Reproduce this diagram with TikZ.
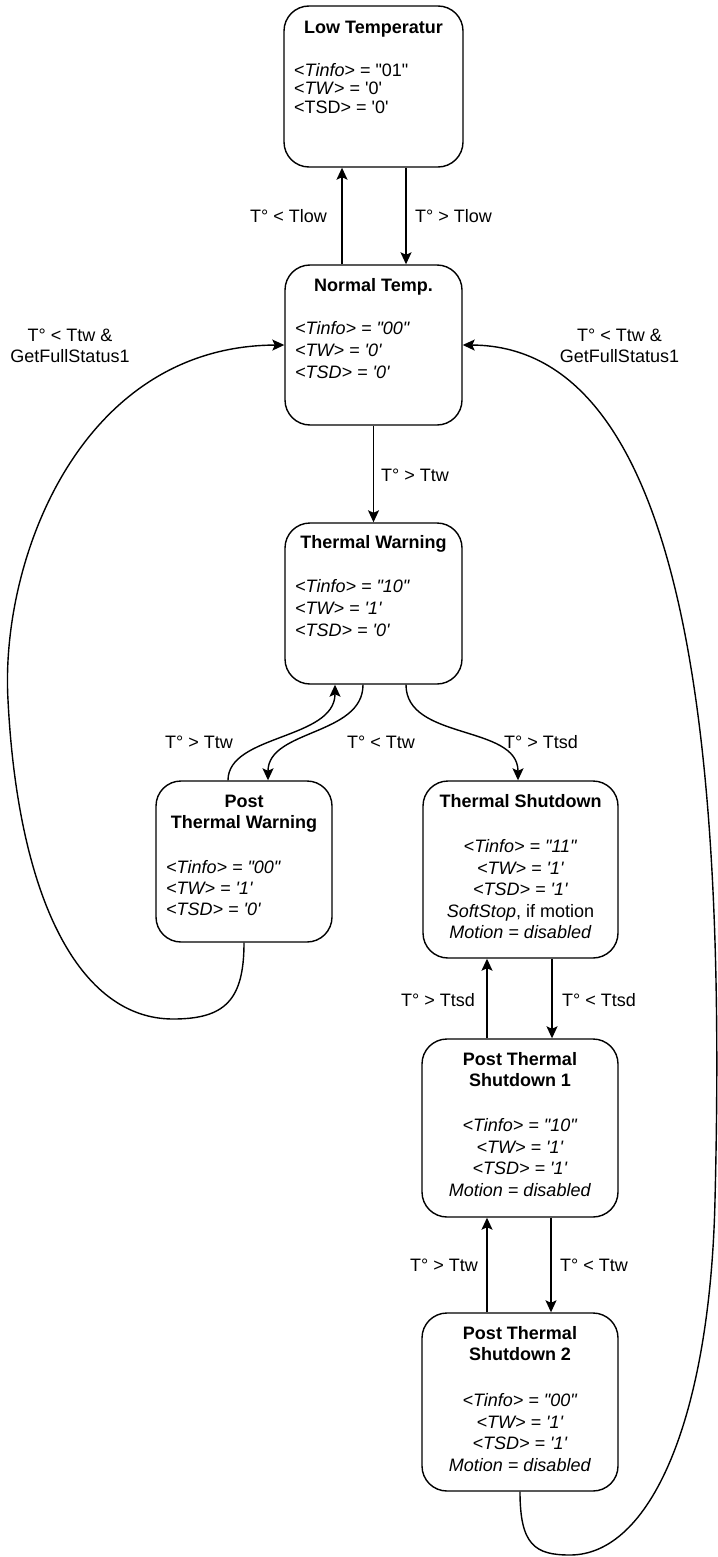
\documentclass[tikz,border=0pt]{standalone}
\usepackage{fontspec}
\setmainfont{Liberation Sans}[Ligatures=TeXOff]
\usetikzlibrary{arrows.meta}
\newcommand\mylines[2]{\begin{tabular}[t]{@{}#1@{}}#2\end{tabular}}
\begin{document}
\begin{tikzpicture}[x=1pt,y=-1pt,
  state/.style={draw, line width=1.4pt, rounded corners=25pt, inner sep=0pt},
  ttl/.style={inner sep=0pt, anchor=base, font=\bfseries\fontsize{18}{21}\selectfont},
  bodyl/.style={inner sep=0pt, anchor=base west, font=\fontsize{18}{22}\selectfont},
  bodyc/.style={inner sep=0pt, anchor=base, font=\fontsize{18}{21.5}\selectfont},
  lbl/.style={inner sep=0pt, font=\fontsize{18}{21}\selectfont},
  conn/.style={line width=1.4pt, -{Stealth[length=12pt,width=11pt,inset=2.5pt]}},
]
\useasboundingbox (0,0) rectangle (717,1557);

% states
\node[state, minimum width=179pt, minimum height=161pt] (low) at (373.5,86.5) {};
\node[state, minimum width=177pt, minimum height=160pt] (normal) at (373.5,345) {};
\node[state, minimum width=177pt, minimum height=161pt] (tw) at (373.5,603.5) {};
\node[state, minimum width=176pt, minimum height=161pt] (ptw) at (244,861.5) {};
\node[state, minimum width=195pt, minimum height=177pt] (ts) at (520.5,869.5) {};
\node[state, minimum width=196pt, minimum height=178pt] (pts1) at (520,1128) {};
\node[state, minimum width=196pt, minimum height=178pt] (pts2) at (520,1402) {};

% state texts
\node[ttl] (lowT) at (373.5,33.5) {Low Temperatur};
\node[bodyl, font=\fontsize{18}{18.5}\selectfont] (lowB) at (294,76.5)
  {\mylines{l}{<\textit{Tinfo}> = "01"\\<\textit{TW}> = '0'\\<TSD> = '0'}};

\node[ttl] (normalT) at (373.5,291.5) {Normal Temp.};
\node[bodyl] (normalB) at (295,334.5)
  {\mylines{l}{\textit{<Tinfo> = "00"}\\\textit{<TW> = '0'}\\\textit{<TSD> = '0'}}};

\node[ttl] (twT) at (373.5,548.5) {Thermal Warning};
\node[bodyl] (twB) at (295,592.5)
  {\mylines{l}{\textit{<Tinfo> = "10"}\\\textit{<TW> = '1'}\\\textit{<TSD> = '0'}}};

\node[ttl] (ptwT) at (244,807.5) {\mylines{c}{Post\\Thermal Warning}};
\node[bodyl, font=\fontsize{18}{21}\selectfont] (ptwB) at (166,873.5)
  {\mylines{l}{\textit{<Tinfo> = "00"}\\\textit{<TW> = '1'}\\\textit{<TSD> = '0'}}};

\node[ttl] (tsT) at (520.5,807.5) {Thermal Shutdown};
\node[bodyc] (tsB) at (520.5,852.5)
  {\mylines{c}{\textit{<Tinfo> = "11"}\\\textit{<TW> = '1'}\\\textit{<TSD> = '1'}\\\textit{SoftStop}, if motion\\\textit{Motion = disabled}}};

\node[ttl] (pts1T) at (520,1065.5) {\mylines{c}{Post Thermal\\Shutdown 1}};
\node[bodyc] (pts1B) at (520,1131.5)
  {\mylines{c}{\textit{<Tinfo> = "10"}\\\textit{<TW> = '1'}\\\textit{<TSD> = '1'}\\\textit{Motion = disabled}}};

\node[ttl] (pts2T) at (520,1339.5) {\mylines{c}{Post Thermal\\Shutdown 2}};
\node[bodyc] (pts2B) at (520,1406.5)
  {\mylines{c}{\textit{<Tinfo> = "00"}\\\textit{<TW> = '1'}\\\textit{<TSD> = '1'}\\\textit{Motion = disabled}}};

% connectors
\draw[conn] ([xshift=-31.5pt]normal.north) -- ([xshift=-31.5pt]low.south);
\draw[conn] ([xshift=32.5pt]low.south) -- ([xshift=32.5pt]normal.north);
\draw[conn] (normal.south) -- (tw.north);
\draw[conn] ([xshift=-16pt]ptw.north) .. controls +(0,-46) and +(0,55) .. ([xshift=-38.5pt]tw.south);
\draw[conn] ([xshift=-10.5pt]tw.south) .. controls +(0,51) and +(0,-51) .. ([xshift=24pt]ptw.north);
\draw[conn] ([xshift=32.5pt]tw.south) .. controls +(0,56) and +(0,-56) .. ([xshift=-2.5pt]ts.north);
\draw[conn] ([xshift=-33pt]pts1.north) -- ([xshift=-33.5pt]ts.south);
\draw[conn] ([xshift=31.5pt]ts.south) -- ([xshift=32pt]pts1.north);
\draw[conn] ([xshift=-33pt]pts2.north) -- ([xshift=-33pt]pts1.south);
\draw[conn] ([xshift=31pt]pts1.south) -- ([xshift=31pt]pts2.north);
\draw[conn] (ptw.south) .. controls (244,1000) and (225,1019) .. (173,1019)
  .. controls (80,1019) and (18,900) .. (8,700)
  .. controls (0,560) and (80,346) .. (normal.west);
\draw[conn] (pts2.south) .. controls (520,1545) and (535,1555) .. (570,1555)
  .. controls (650,1555) and (710,1420) .. (715,1200)
  .. controls (725,800) and (700,346) .. (normal.east);

% connector labels
\node[lbl, anchor=base east] (l1) at (327,222.5) {T° < Tlow};
\node[lbl, anchor=base west] (l2) at (415,222.5) {T° > Tlow};
\node[lbl, anchor=base west] (l3) at (381,481.5) {T° > Ttw};
\node[lbl, anchor=base] (l4) at (70,341.5) {\mylines{c}{T° < Ttw \&\\GetFullStatus1}};
\node[lbl, anchor=base] (l5) at (619.5,341.5) {\mylines{c}{T° < Ttw \&\\GetFullStatus1}};
\node[lbl, anchor=base west] (l6) at (165,748.5) {T° > Ttw};
\node[lbl, anchor=base west] (l7) at (347,748.5) {T° < Ttw};
\node[lbl, anchor=base west] (l8) at (504,748.5) {T° > Ttsd};
\node[lbl, anchor=base east] (l9) at (475,1006.5) {T° > Ttsd};
\node[lbl, anchor=base west] (l10) at (562,1006.5) {T° < Ttsd};
\node[lbl, anchor=base west] (l11) at (410,1271.5) {T° > Ttw};
\node[lbl, anchor=base west] (l12) at (560,1271.5) {T° < Ttw};
\end{tikzpicture}
\end{document}
